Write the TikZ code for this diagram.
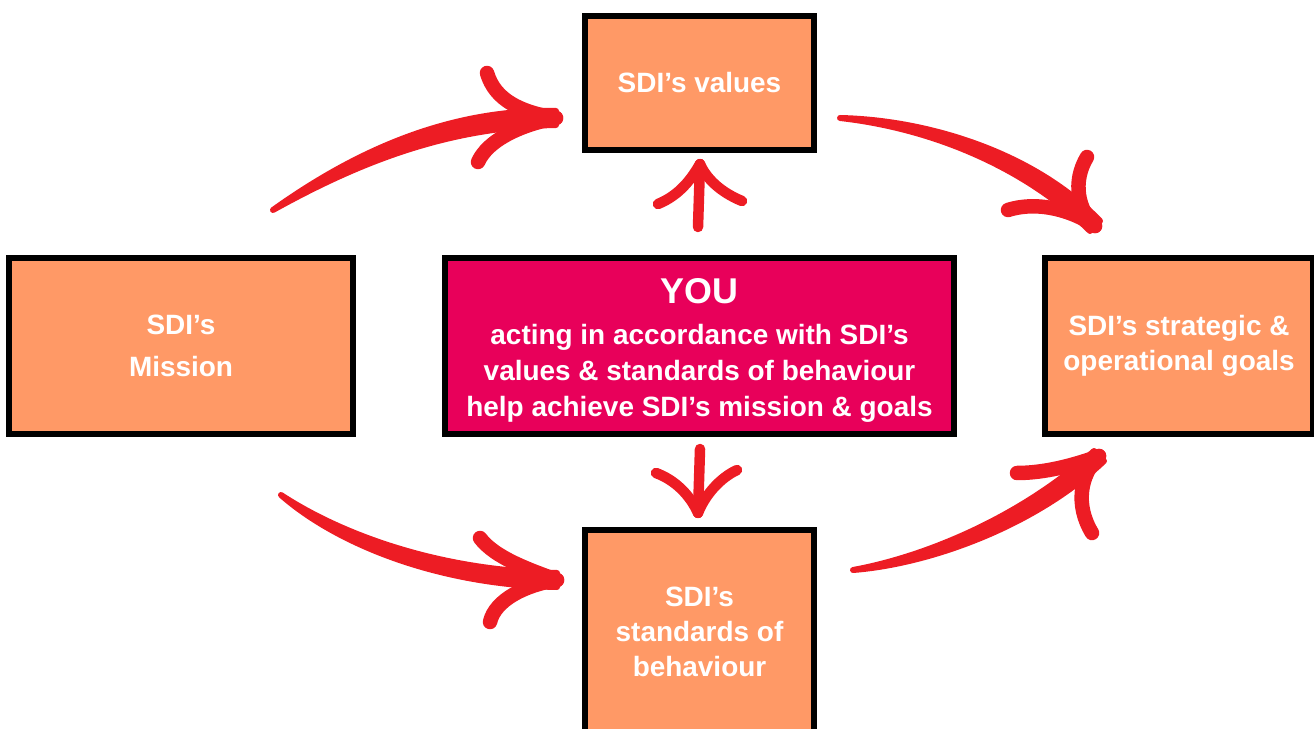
\documentclass[tikz,border=0pt]{standalone}
\usepackage{fontspec}
\setmainfont{Liberation Sans}
\usepackage{tikz}
\usetikzlibrary{calc}

\definecolor{boxorange}{HTML}{FF9966}
\definecolor{youpink}{HTML}{E8005A}
\definecolor{arrowred}{HTML}{ED1C24}

\begin{document}
\begin{tikzpicture}
    [
    x=0.02cm,y=-0.02cm,
    box/.style={rectangle,draw,line width=0.12cm,fill=boxorange,text=white,align=center,inner sep=0pt,font=\bfseries\fontsize{15.9}{20.1}\selectfont},
    youbox/.style={box,fill=youpink},
    shaft/.style={draw=arrowred,fill=arrowred,line width=0.12cm,line join=round},
    barb/.style={draw=arrowred,line width=0.29cm,line cap=round},
    thinbarb/.style={barb,line width=0.21cm},
    ]
    \useasboundingbox (0,0) rectangle (1314,729);

    \node (values) at (699.5,83) [box,minimum width=4.58cm,minimum height=2.68cm] {SDI’s values};
    \node (mission) at (181,346) [box,minimum width=6.88cm,minimum height=3.52cm,font=\bfseries\fontsize{15.9}{23.8}\selectfont] {SDI’s\\Mission};
    \node (you) at (699.5,346) [youbox,minimum width=10.18cm,minimum height=3.52cm,font=\bfseries\fontsize{15.9}{20.4}\selectfont]
      {{\fontsize{20.4}{24}\selectfont\rule{0pt}{19.4pt}YOU}\\[2.8pt]acting in accordance with SDI’s\\values \& standards of behaviour\\help achieve SDI’s mission \& goals};
    \node (goals) at (1179,346) [box,minimum width=5.36cm,minimum height=3.52cm,font=\bfseries\fontsize{15.9}{19.8}\selectfont] {SDI’s strategic \&\\operational goals};
    \node (standards) at (699.5,632) [box,minimum width=4.58cm,minimum height=4.08cm] {SDI’s\\standards of\\behaviour};

    \coordinate (mv tail) at (273,210);
    \coordinate (mv tip) at (556,118);
    \draw [shaft] (mv tail) .. controls (357,150) and (450,109) .. ($(mv tip)+(0,-7)$) -- ($(mv tip)+(0,7)$) .. controls (450,127) and (363,160) .. cycle;
    \draw [barb] (487,73) .. controls (495,100) and (520,112) .. (mv tip);
    \draw [barb] (478,162) .. controls (488,140) and (520,125) .. (mv tip);

    \coordinate (vg tail) at (840,118);
    \coordinate (vg tip) at (1095,226);
    \draw [shaft] (vg tail) .. controls (930,120) and (1036,154) .. ($(vg tip)+(5,-5)$) -- ($(vg tip)+(-5,5)$) .. controls (1024,166) and (930,128) .. cycle;
    \draw [barb] (1087,157) .. controls (1072,182) and (1078,210) .. (vg tip);
    \draw [barb] (1008,210) .. controls (1040,200) and (1075,212) .. (vg tip);

    \coordinate (ms tail) at (281,495);
    \coordinate (ms tip) at (557,580);
    \draw [shaft] (ms tail) .. controls (342,535) and (440,571) .. ($(ms tip)+(0,-7)$) -- ($(ms tip)+(0,7)$) .. controls (440,585) and (338,545) .. cycle;
    \draw [barb] (480,538) .. controls (495,558) and (530,570) .. (ms tip);
    \draw [barb] (490,622) .. controls (495,600) and (525,585) .. (ms tip);

    \coordinate (sg tail) at (853,570);
    \coordinate (sg tip) at (1099,456);
    \draw [shaft] (sg tail) .. controls (930,556) and (1025,514) .. ($(sg tip)+(-5,-5)$) -- ($(sg tip)+(5,5)$) .. controls (1035,526) and (930,564) .. cycle;
    \draw [barb] (1017,473) .. controls (1045,473) and (1075,465) .. (sg tip);
    \draw [barb] (1092,533) .. controls (1075,505) and (1080,475) .. (sg tip);

    \coordinate (yv tail) at (698,227);
    \coordinate (yv tip) at (700,164);
    \draw [thinbarb] (yv tail) -- (yv tip);
    \draw [thinbarb] (658,204) .. controls (680,195) and (692,178) .. (yv tip);
    \draw [thinbarb] (742,201) .. controls (720,192) and (706,178) .. (yv tip);

    \coordinate (ys tail) at (700,449);
    \coordinate (ys tip) at (698,513);
    \draw [thinbarb] (ys tail) -- (ys tip);
    \draw [thinbarb] (656,473) .. controls (675,480) and (690,495) .. (ys tip);
    \draw [thinbarb] (737,470) .. controls (720,478) and (705,495) .. (ys tip);
\end{tikzpicture}
\end{document}
